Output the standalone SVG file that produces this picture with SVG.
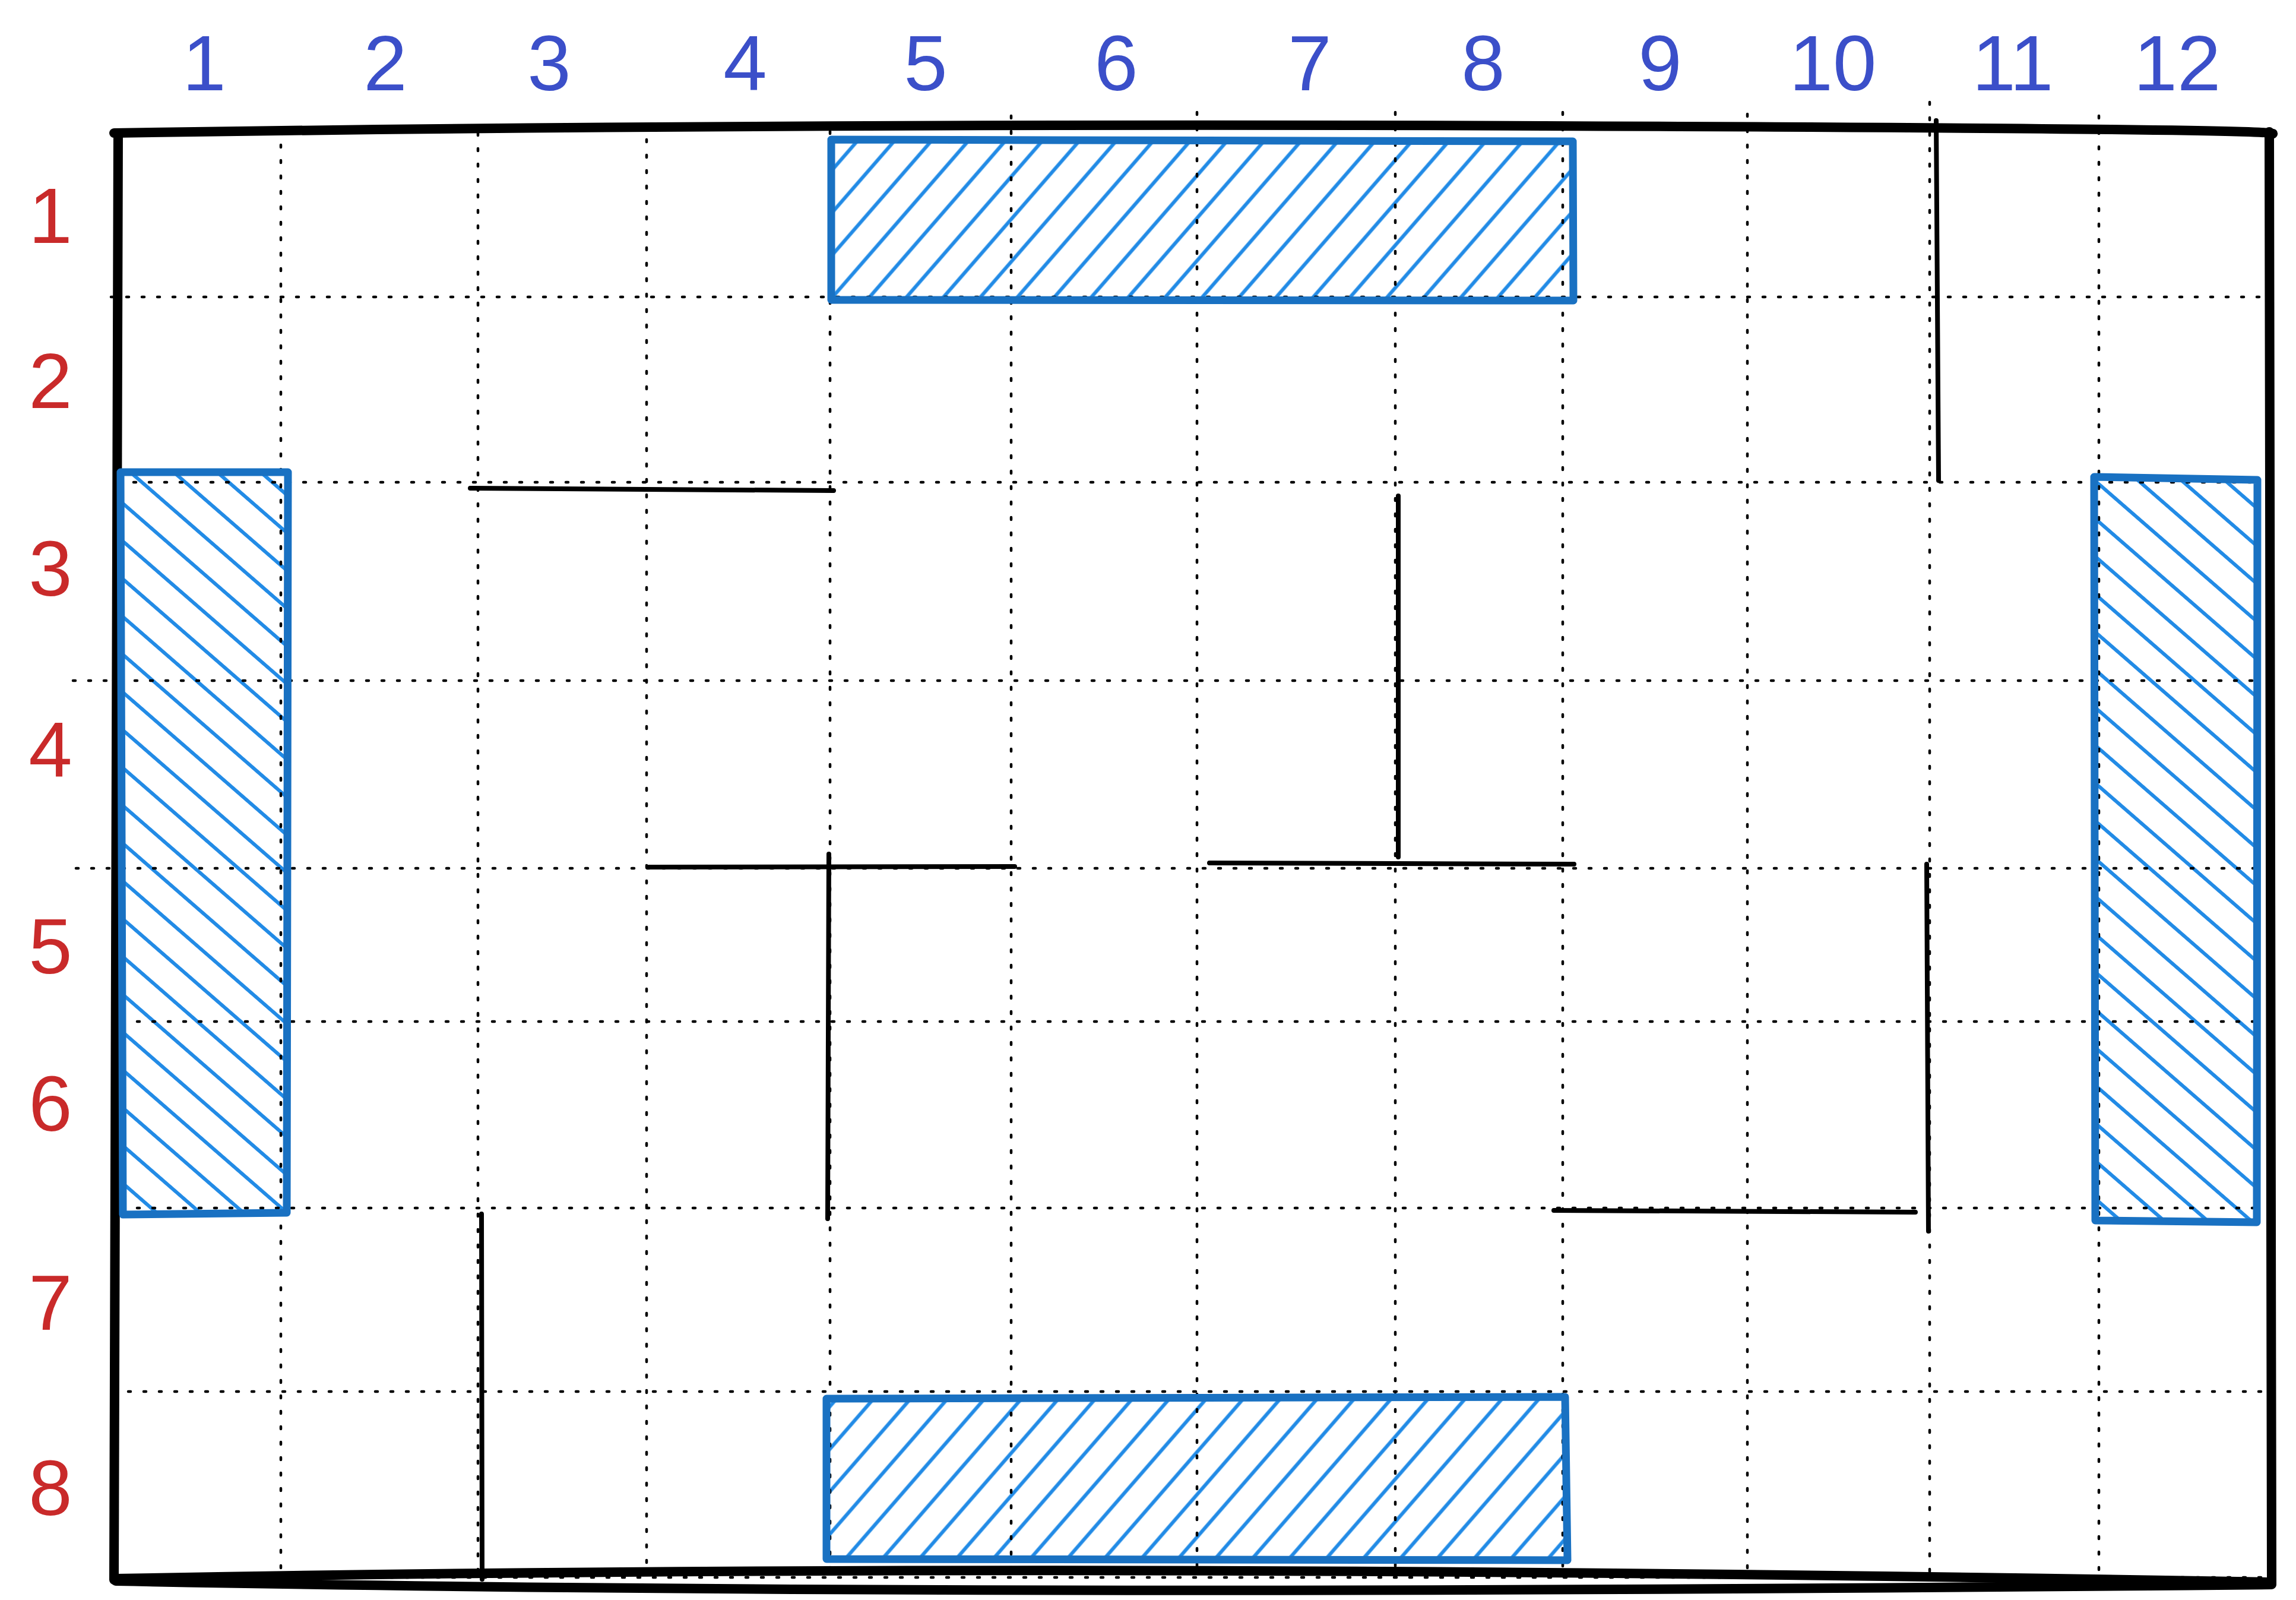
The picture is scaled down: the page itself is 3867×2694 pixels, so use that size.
<svg xmlns="http://www.w3.org/2000/svg" width="3867" height="2694" viewBox="0 0 3867 2694">
  <style>
    .grid { stroke: #000; stroke-width: 4.5; stroke-dasharray: 4 22; stroke-linecap: round; fill: none; }
    .border { stroke: #000; stroke-width: 16; fill: none; stroke-linecap: round; stroke-linejoin: round; }
    .wall { stroke: #000; stroke-width: 8; stroke-linecap: round; fill: none; }
    .box { stroke: #1971c2; stroke-width: 13; stroke-linejoin: round; stroke-linecap: round; fill: none; }
    .col { font-family: "Liberation Sans", Arial, sans-serif; font-size: 132px; fill: #3b4fc9; text-anchor: middle; }
    .row { font-family: "Liberation Sans", Arial, sans-serif; font-size: 132px; fill: #c92a2a; text-anchor: middle; }
  </style>
  <defs>
    <pattern id="hatchDown" patternUnits="userSpaceOnUse" width="200" height="48" patternTransform="rotate(41)">
      <line x1="-10" y1="24" x2="210" y2="24" stroke="#228be6" stroke-width="6"/>
    </pattern>
    <pattern id="hatchUp" patternUnits="userSpaceOnUse" width="200" height="47" patternTransform="rotate(-49)">
      <line x1="-10" y1="23.5" x2="210" y2="23.5" stroke="#228be6" stroke-width="6"/>
    </pattern>
  </defs>
  <rect width="3867" height="2694" fill="#fff"/>

  <!-- hatch fills -->
  <g id="fills">
    <polygon points="203,795 485,795 483,2042 207,2045" fill="url(#hatchDown)"/>
    <polygon points="3527,803 3802,808 3801,2058 3529,2055" fill="url(#hatchDown)"/>
    <polygon points="1400,235 2649,238 2650,506 1400,505" fill="url(#hatchUp)"/>
    <polygon points="1392,2355 2636,2352 2640,2627 1392,2625" fill="url(#hatchUp)"/>
  </g>

  <!-- dotted grid -->
  <g id="grid">
    <line class="grid" x1="473" y1="244" x2="473" y2="2644"/>
    <line class="grid" x1="805" y1="224" x2="805" y2="2656"/>
    <line class="grid" x1="1089" y1="235" x2="1089" y2="2640"/>
    <line class="grid" x1="1398" y1="221" x2="1398" y2="2648"/>
    <line class="grid" x1="1703" y1="195" x2="1703" y2="2648"/>
    <line class="grid" x1="2016" y1="189" x2="2016" y2="2648"/>
    <line class="grid" x1="2350" y1="189" x2="2350" y2="2648"/>
    <line class="grid" x1="2632" y1="189" x2="2632" y2="2648"/>
    <line class="grid" x1="2943" y1="192" x2="2943" y2="2645"/>
    <line class="grid" x1="3250" y1="172" x2="3250" y2="2650"/>
    <line class="grid" x1="3535" y1="195" x2="3535" y2="2648"/>

    <line class="grid" x1="187" y1="500" x2="3812" y2="500"/>
    <line class="grid" x1="199" y1="812" x2="3812" y2="812"/>
    <line class="grid" x1="123" y1="1146" x2="3812" y2="1146"/>
    <line class="grid" x1="128" y1="1462" x2="3812" y2="1462"/>
    <line class="grid" x1="205" y1="1720" x2="3808" y2="1720"/>
    <line class="grid" x1="205" y1="2034" x2="3812" y2="2034"/>
    <line class="grid" x1="216" y1="2343" x2="3812" y2="2343"/>
    <line class="grid" x1="216" y1="2656" x2="3812" y2="2656"/>
  </g>

  <!-- outer border -->
  <g id="outer-border">
    <path class="border" d="M192,224 Q1300,207 2600,212 T3824,226"/>
    <path class="border" d="M199,224 L192,2660"/>
    <path class="border" d="M3822,222 L3826,2666"/>
    <path class="border" stroke-width="12" d="M195,2658 Q1800,2628 3826,2664"/>
    <path class="border" stroke-width="12" d="M195,2662 Q1600,2690 3826,2668"/>
  </g>

  <!-- hatched blocks -->
  <g id="block-left">
    <polygon class="box" points="203,795 485,795 483,2042 207,2045"/>
  </g>
  <g id="block-right">
    <polygon class="box" points="3527,803 3802,808 3801,2058 3529,2055"/>
  </g>
  <g id="block-top">
    <polygon class="box" points="1400,235 2649,238 2650,506 1400,505"/>
  </g>
  <g id="block-bottom">
    <polygon class="box" points="1392,2355 2636,2352 2640,2627 1392,2625"/>
  </g>

  <!-- wall segments -->
  <g id="connectors">
    <line class="wall" x1="792" y1="822" x2="1404" y2="826"/>
    <line class="wall" x1="3261" y1="203" x2="3265" y2="809"/>
    <line class="wall" x1="2355" y1="835" x2="2355" y2="1443"/>
    <line class="wall" x1="2037" y1="1453" x2="2651" y2="1455"/>
    <line class="wall" x1="1092" y1="1460" x2="1709" y2="1459"/>
    <line class="wall" x1="1396" y1="1438" x2="1394" y2="2052"/>
    <line class="wall" x1="3245" y1="1455" x2="3248" y2="2073"/>
    <line class="wall" x1="2617" y1="2038" x2="3226" y2="2041"/>
    <line class="wall" x1="811" y1="2044" x2="812" y2="2659"/>
  </g>

  <!-- column labels -->
  <g id="column-labels">
    <text class="col" x="344" y="152">1</text>
    <text class="col" x="649" y="152">2</text>
    <text class="col" x="925" y="152">3</text>
    <text class="col" x="1255" y="152">4</text>
    <text class="col" x="1559" y="152">5</text>
    <text class="col" x="1880" y="152">6</text>
    <text class="col" x="2206" y="152">7</text>
    <text class="col" x="2498" y="152">8</text>
    <text class="col" x="2796" y="152">9</text>
    <text class="col" x="3087" y="152">10</text>
    <text class="col" x="3390" y="152">11</text>
    <text class="col" x="3667" y="152">12</text>
  </g>

  <!-- row labels -->
  <g id="row-labels">
    <text class="row" x="85" y="409">1</text>
    <text class="row" x="85" y="687">2</text>
    <text class="row" x="85" y="1003">3</text>
    <text class="row" x="85" y="1308">4</text>
    <text class="row" x="85" y="1639">5</text>
    <text class="row" x="85" y="1904">6</text>
    <text class="row" x="85" y="2239">7</text>
    <text class="row" x="85" y="2551">8</text>
  </g>
</svg>
